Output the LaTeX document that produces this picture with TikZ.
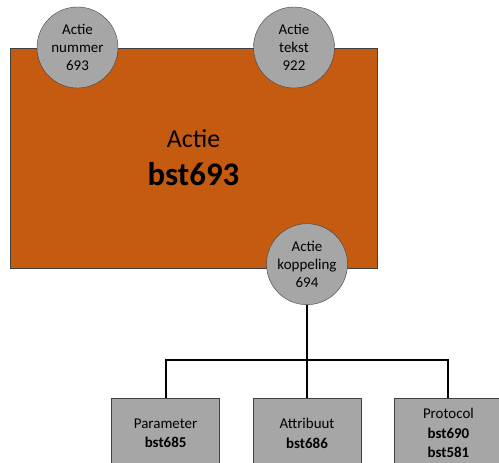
\documentclass[tikz,border=0pt]{standalone}
\usepackage{fontspec}
\setmainfont{Carlito}
\usepackage{tikz-qtree}
\definecolor{actiebruin}{HTML}{C55A11}
\definecolor{grijs}{HTML}{A6A6A6}
\definecolor{rand}{HTML}{404040}

\begin{document}
\begin{tikzpicture}[x=1bp,y=1bp,
   kenmerk/.style={draw=rand,fill=grijs,circle,minimum size=81bp,inner sep=0pt,
      align=center,font=\fontsize{15}{18}\selectfont},
   object/.style={draw=rand,fill=grijs,minimum width=108bp,minimum height=70bp,
      inner sep=0pt,align=center,font=\fontsize{15}{19.5}\selectfont}]
\useasboundingbox (0,0) rectangle (499,-463);
\clip (0,0) rectangle (499,-463);
\node[draw=rand,fill=actiebruin,minimum width=367bp,minimum height=220bp,align=center,
   font=\fontsize{26}{38}\selectfont] (actie) at (193.5,-158)
   {Actie\\{\fontsize{33}{38}\selectfont\bfseries bst693}};
\node[kenmerk] (nummer) at (77.5,-47.5) {Actie\\nummer\\693};
\node[kenmerk] (tekst) at (294,-47.5) {Actie\\tekst\\922};
\begin{scope}[shift={(307,-223.5)},every tree node/.style={anchor=north},
   level distance=174.5bp,sibling distance=33bp,
   edge from parent/.style={draw,black,line width=2bp},
   edge from parent path={(\tikzparentnode.south) -- ++(0,-55) -| (\tikzchildnode.north)}]
\Tree [.\node[kenmerk] (koppeling) {Actie\\koppeling\\694};
    \node[object] (parameter) {Parameter\\\textbf{bst685}};
    \node[object] (attribuut) {Attribuut\\\textbf{bst686}};
    \node[object] (protocol) {Protocol\\\textbf{bst690}\\\textbf{bst581}};
    ]
\end{scope}
\end{tikzpicture}
\end{document}
